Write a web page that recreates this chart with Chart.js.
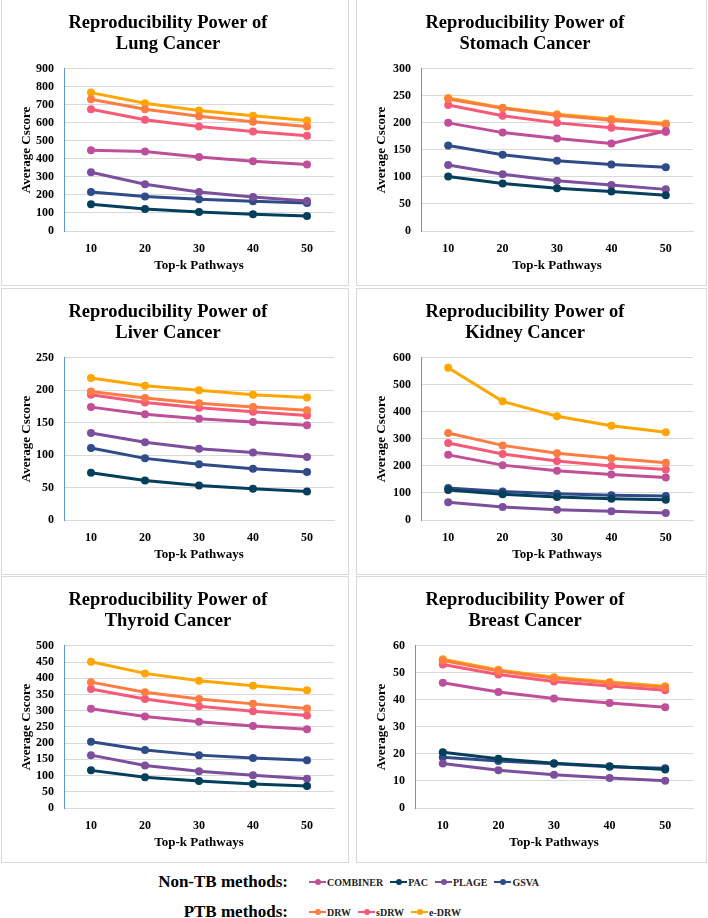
<!DOCTYPE html>
<html>
<head>
<meta charset="utf-8">
<script src="https://cdn.jsdelivr.net/npm/chart.js@4.4.1/dist/chart.umd.min.js"></script>
<style>
body { margin: 0; width: 708px; height: 918px; background: #fff; position: relative; overflow: hidden; font-family: "Liberation Serif", serif; }
.panel { position: absolute; border: 1px solid #d9d9d9; box-sizing: border-box; }
.group-label { position: absolute; right: 420px; font-weight: bold; font-size: 17px; line-height: 20px; color: #000; white-space: nowrap; }
.items { position: absolute; left: 309px; height: 14px; display: flex; gap: 7px; align-items: center; }
.item { display: flex; align-items: center; font-weight: bold; font-size: 10px; color: #222; }
.swatch { position: relative; width: 17px; height: 2px; margin-right: 1px; }
.swatch i { position: absolute; left: 6px; top: -2px; width: 6px; height: 6px; border-radius: 50%; }
</style>
</head>
<body>

<div class="panel" style="left:1px;top:-1px;width:348px;height:287px"><canvas id="lungChart"></canvas></div>
<div class="panel" style="left:356px;top:-1px;width:351px;height:287px"><canvas id="stomachChart"></canvas></div>
<div class="panel" style="left:1px;top:288px;width:348px;height:287px"><canvas id="liverChart"></canvas></div>
<div class="panel" style="left:356px;top:288px;width:351px;height:287px"><canvas id="kidneyChart"></canvas></div>
<div class="panel" style="left:1px;top:576px;width:348px;height:287px"><canvas id="thyroidChart"></canvas></div>
<div class="panel" style="left:356px;top:576px;width:351px;height:287px"><canvas id="breastChart"></canvas></div>

<div class="group-label" style="top:872px">Non-TB methods:</div>
<div class="items" id="nonTbLegend" style="top:875px"></div>
<div class="group-label" style="top:902px">PTB methods:</div>
<div class="items" id="ptbLegend" style="top:905px"></div>

<script>
// Trục X: số pathway top-k
const kValues = ["10", "20", "30", "40", "50"];

const nonTbMethods = ["COMBINER", "PAC", "PLAGE", "GSVA"];
const ptbMethods = ["DRW", "sDRW", "e-DRW"];
const methods = nonTbMethods.concat(ptbMethods);

const methodColors = {
    "COMBINER": "#bf4f98",
    "PAC": "#063f5c",
    "PLAGE": "#7c4f9c",
    "GSVA": "#2f4b88",
    "DRW": "#ff7c43",
    "sDRW": "#f55a79",
    "e-DRW": "#ffa600"
};

// Average Cscore cho từng loại ung thư
const lungCancer = {
    "COMBINER": [448, 441, 411, 387, 369],
    "PAC": [148, 122, 106, 93, 83],
    "PLAGE": [326, 259, 217, 189, 167],
    "GSVA": [217, 191, 176, 165, 156],
    "DRW": [731, 676, 637, 606, 580],
    "sDRW": [676, 617, 580, 552, 528],
    "e-DRW": [768, 709, 669, 639, 613]
};

const stomachCancer = {
    "COMBINER": [200, 182, 171, 162, 185],
    "PAC": [101, 88, 79, 73, 66],
    "PLAGE": [122, 105, 93, 85, 77],
    "GSVA": [158, 141, 130, 123, 118],
    "DRW": [244, 227, 214, 205, 197],
    "sDRW": [233, 213, 200, 191, 183],
    "e-DRW": [246, 228, 216, 207, 199]
};

const liverCancer = {
    "COMBINER": [174, 163, 156, 151, 146],
    "PAC": [73, 61, 53, 48, 44],
    "PLAGE": [134, 120, 110, 104, 97],
    "GSVA": [111, 95, 86, 79, 74],
    "DRW": [198, 188, 180, 174, 169],
    "sDRW": [193, 181, 173, 167, 161],
    "e-DRW": [219, 207, 200, 193, 189]
};

const kidneyCancer = {
    "COMBINER": [241, 203, 182, 168, 157],
    "PAC": [111, 95, 85, 79, 75],
    "PLAGE": [66, 48, 38, 32, 26],
    "GSVA": [118, 105, 97, 92, 89],
    "DRW": [322, 276, 247, 228, 212],
    "sDRW": [285, 244, 218, 200, 187],
    "e-DRW": [563, 439, 384, 349, 325]
};

const thyroidCancer = {
    "COMBINER": [306, 282, 266, 253, 243],
    "PAC": [116, 95, 83, 74, 68],
    "PLAGE": [163, 131, 113, 101, 90],
    "GSVA": [204, 179, 163, 154, 147],
    "DRW": [388, 357, 336, 321, 307],
    "sDRW": [367, 336, 314, 298, 285],
    "e-DRW": [451, 415, 392, 377, 363]
};

const breastCancer = {
    "COMBINER": [46.3, 42.9, 40.5, 38.8, 37.3],
    "PAC": [20.6, 18.2, 16.6, 15.4, 14.2],
    "PLAGE": [16.5, 14.0, 12.3, 11.1, 10.1],
    "GSVA": [18.8, 17.4, 16.4, 15.3, 14.7],
    "DRW": [54.6, 50.7, 48.0, 46.2, 44.6],
    "sDRW": [53.1, 49.4, 46.8, 45.1, 43.6],
    "e-DRW": [55.0, 51.1, 48.4, 46.6, 45.0]
};

const serif = "'Liberation Serif', 'Times New Roman', serif";

const drawPanel = (canvasId, cancerName, values, yMax, yStep, axisWidth, rightPad) => {
    new Chart(document.getElementById(canvasId), {
        type: "line",
        data: {
            labels: kValues,
            datasets: methods.map(m => ({
                label: m,
                data: values[m],
                borderColor: methodColors[m],
                backgroundColor: methodColors[m],
                borderWidth: 3,
                pointRadius: 4,
                pointHoverRadius: 4,
                pointBorderWidth: 0,
                tension: 0
            }))
        },
        options: {
            responsive: true,
            maintainAspectRatio: false,
            animation: false,
            layout: { padding: { left: 0, right: rightPad, top: 0, bottom: 0 } },
            plugins: {
                legend: { display: false },
                tooltip: { enabled: false },
                title: {
                    display: true,
                    text: ["Reproducibility Power of", cancerName],
                    color: "#000",
                    font: { family: serif, size: 18.5, weight: "bold", lineHeight: 1.13 },
                    padding: { top: 13, bottom: 14 }
                }
            },
            scales: {
                x: {
                    offset: true,
                    grid: { display: false },
                    border: { color: "#d9d9d9" },
                    ticks: { color: "#000", padding: 3, font: { family: serif, size: 12, weight: "bold" } },
                    title: {
                        display: true,
                        text: "Top-k Pathways",
                        color: "#000",
                        font: { family: serif, size: 13, weight: "bold" },
                        padding: { top: 4, bottom: 12 }
                    },
                    afterFit: scale => { scale.height = 54; }
                },
                y: {
                    min: 0,
                    max: yMax,
                    grid: { color: "#d9d9d9", drawTicks: false },
                    border: { color: "#5b9bd5", width: 1 },
                    ticks: { stepSize: yStep, autoSkip: false, color: "#000", padding: 10, font: { family: serif, size: 12, weight: "bold" } },
                    title: {
                        display: true,
                        text: "Average Cscore",
                        color: "#000",
                        font: { family: serif, size: 13, weight: "bold" },
                        padding: { top: 17, bottom: 4 }
                    },
                    afterFit: scale => { scale.width = axisWidth; }
                }
            }
        }
    });
};

drawPanel("lungChart", "Lung Cancer", lungCancer, 900, 100, 62, 14);
drawPanel("stomachChart", "Stomach Cancer", stomachCancer, 300, 50, 64, 13);
drawPanel("liverChart", "Liver Cancer", liverCancer, 250, 50, 62, 14);
drawPanel("kidneyChart", "Kidney Cancer", kidneyCancer, 600, 100, 64, 13);
drawPanel("thyroidChart", "Thyroid Cancer", thyroidCancer, 500, 50, 62, 14);
drawPanel("breastChart", "Breast Cancer", breastCancer, 60, 10, 58, 13);

// Chú thích chung ở dưới
const buildLegend = (containerId, names) => {
    const box = document.getElementById(containerId);
    names.forEach(name => {
        const item = document.createElement("span");
        item.className = "item";
        const sw = document.createElement("span");
        sw.className = "swatch";
        sw.style.background = methodColors[name];
        const dot = document.createElement("i");
        dot.style.background = methodColors[name];
        sw.appendChild(dot);
        item.appendChild(sw);
        item.appendChild(document.createTextNode(name));
        box.appendChild(item);
    });
};

buildLegend("nonTbLegend", nonTbMethods);
buildLegend("ptbLegend", ptbMethods);
</script>
</body>
</html>
